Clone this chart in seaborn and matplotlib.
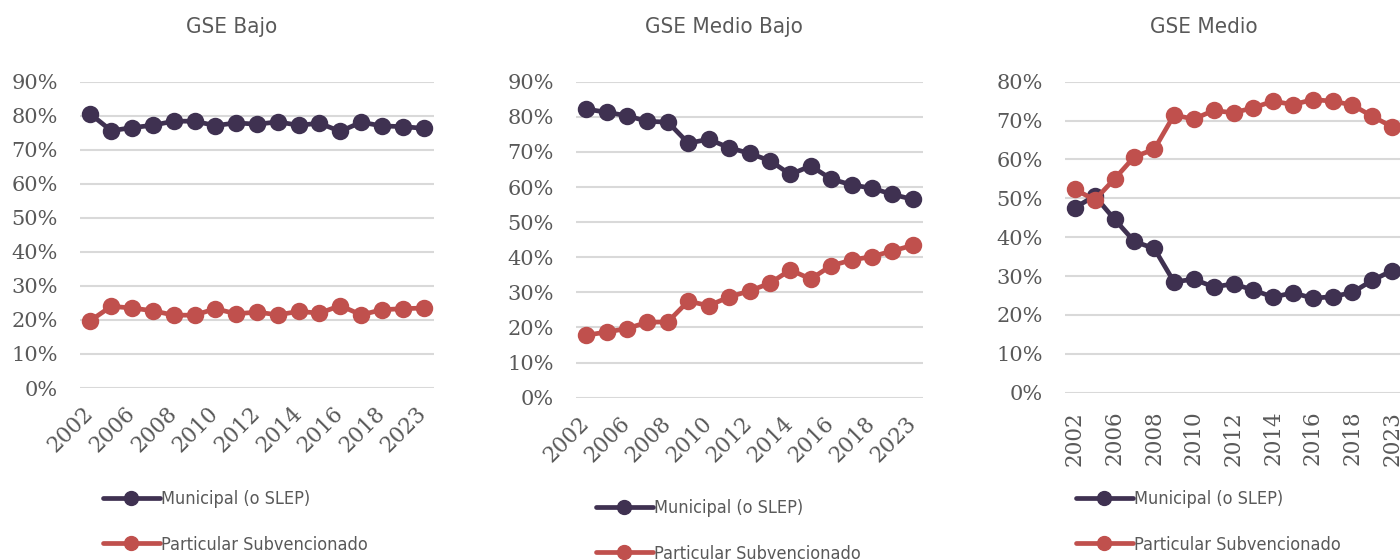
"""
Matrícula por dependencia según GSE (2002-2023)
- tres paneles: GSE Bajo, GSE Medio Bajo, GSE Medio
"""
import numpy as np
import pandas as pd
import matplotlib
matplotlib.use('Agg')
import matplotlib.pyplot as plt
from matplotlib import font_manager
from matplotlib.lines import Line2D
from matplotlib.ticker import PercentFormatter
import seaborn as sns

# años (solo se rotulan los de índice par)
years = ['2002', '2004', '2006', '2007', '2008', '2009', '2010', '2011', '2012',
         '2013', '2014', '2015', '2016', '2017', '2018', '2019', '2023']

series_names = ['Municipal (o SLEP)', 'Particular Subvencionado']
panel_titles = ['GSE Bajo', 'GSE Medio Bajo', 'GSE Medio']

# GSE Bajo
bajo_municipal = [80.5, 75.6, 76.5, 77.2, 78.4, 78.4, 77.1, 77.9, 77.5,
                  78.2, 77.2, 77.8, 75.4, 78.1, 77.0, 76.8, 76.3]
bajo_particular = [19.8, 24.0, 23.5, 22.7, 21.4, 21.4, 23.3, 21.8, 22.3,
                   21.5, 22.5, 22.0, 24.2, 21.5, 23.0, 23.3, 23.5]

# GSE Medio Bajo
mb_municipal = [82.2, 81.3, 80.3, 78.7, 78.5, 72.5, 73.6, 71.2, 69.6,
                67.5, 63.6, 66.0, 62.3, 60.6, 59.7, 57.9, 56.5]
mb_particular = [17.8, 18.7, 19.7, 21.5, 21.6, 27.5, 26.2, 28.7, 30.4,
                 32.6, 36.4, 33.8, 37.6, 39.2, 40.2, 41.8, 43.4]

# GSE Medio
medio_municipal = [47.6, 50.6, 44.6, 38.9, 37.1, 28.5, 29.2, 27.2, 28.0,
                   26.4, 24.6, 25.7, 24.3, 24.7, 25.8, 28.9, 31.4]
medio_particular = [52.3, 49.6, 55.0, 60.7, 62.6, 71.4, 70.4, 72.6, 72.0,
                    73.3, 75.0, 74.1, 75.4, 75.0, 74.0, 71.1, 68.4]

y_max = [0.9, 0.9, 0.8]

COLORS = ['#3F3151', '#C0504D']
GRAY = '#595959'
SERIF = ['DejaVu Serif']


def narrow_font():
    """Busca una sans condensada instalada; si no hay, DejaVu Sans normal"""
    keys = ('narrow', 'condensed')
    found = []
    for f in font_manager.fontManager.ttflist:
        name = f.name.lower()
        path = f.fname.lower()
        if 'serif' in name or 'mono' in name or 'bold' in path or 'italic' in path:
            continue
        if f.style != 'normal' or f.weight not in (400, 'normal', 'regular'):
            continue
        if any(k in name for k in keys) or any(k in path for k in keys) \
                or 'condensed' in str(f.stretch):
            found.append(f)
    found.sort(key=lambda f: ('semi' in f.fname.lower() or 'extra' in f.fname.lower(),
                              f.fname))
    if found:
        return font_manager.FontProperties(fname=found[0].fname)
    return font_manager.FontProperties(family='DejaVu Sans')


def to_long(municipal, particular):
    df = pd.DataFrame({'year': years,
                       series_names[0]: np.array(municipal) / 100,
                       series_names[1]: np.array(particular) / 100})
    return df.melt(id_vars='year', var_name='sector', value_name='share')


sns.set_theme(style='white')
plt.rcParams['font.family'] = SERIF

narrow = narrow_font()

fig = plt.figure(figsize=(14, 5.6), dpi=100)

# posiciones en píxeles (izq, der, arriba, abajo)
boxes = [(80, 434, 81.7, 388), (576, 923, 81.7, 397.7), (1065, 1402, 81.7, 392.7)]
title_x = [232, 724, 1204]
legend_pos = [(103, 522), (596, 531), (1076, 522)]
rotations = [45, 45, 90]

panels = [(bajo_municipal, bajo_particular),
          (mb_municipal, mb_particular),
          (medio_municipal, medio_particular)]

W, H = 1400, 560
for i, (mun, par) in enumerate(panels):
    l, r, t, b = boxes[i]
    ax = fig.add_axes([l / W, (H - b) / H, (r - l) / W, (b - t) / H])
    df = to_long(mun, par)
    sns.pointplot(data=df, x='year', y='share', hue='sector', order=years,
                  hue_order=series_names, palette=COLORS, markers='o',
                  errorbar=None, legend=False, ax=ax,
                  linewidth=3.4, markersize=10)

    ax.set_ylim(0, y_max[i])
    ax.set_yticks(np.arange(0, y_max[i] + 0.001, 0.1))
    ax.yaxis.set_major_formatter(PercentFormatter(1.0, decimals=0))
    ax.set_xlim(-0.5, len(years) - 0.5)
    ax.set_xticks(range(0, len(years), 2))
    ax.set_xticklabels(years[::2])
    ax.grid(axis='y', color='#D9D9D9', linewidth=1.5)
    ax.set_axisbelow(True)
    sns.despine(ax=ax, left=True, bottom=True)
    ax.set_xlabel('')
    ax.set_ylabel('')
    ax.tick_params(axis='y', length=0, pad=16, labelsize=15, labelcolor=GRAY)
    if rotations[i] == 45:
        ax.tick_params(axis='x', length=0, pad=16, labelsize=15.5, labelcolor=GRAY)
        for lab in ax.get_xticklabels():
            lab.set_rotation(45)
            lab.set_ha('right')
            lab.set_va('center')
            lab.set_rotation_mode('anchor')
    else:
        ax.tick_params(axis='x', length=0, pad=13, labelsize=15.5, labelcolor=GRAY)
        for lab in ax.get_xticklabels():
            lab.set_rotation(90)
            lab.set_va('top')

    title_font = narrow.copy()
    title_font.set_size(16)
    fig.text(title_x[i] / W, (H - 27) / H, panel_titles[i], ha='center',
             va='center', color=GRAY, fontproperties=title_font)

    handles = [Line2D([], [], color=c, marker='o', linewidth=3.4, markersize=10)
               for c in COLORS]
    legend_font = narrow.copy()
    legend_font.set_size(13)
    lx, ly = legend_pos[i]
    fig.legend(handles, series_names, loc='center left',
               bbox_to_anchor=(lx / W, (H - ly) / H), frameon=False,
               borderpad=0, borderaxespad=0, handlelength=3.15,
               handletextpad=0.05, labelspacing=1.5,
               prop=legend_font, labelcolor=GRAY)

fig.savefig('out.png', dpi=100)
